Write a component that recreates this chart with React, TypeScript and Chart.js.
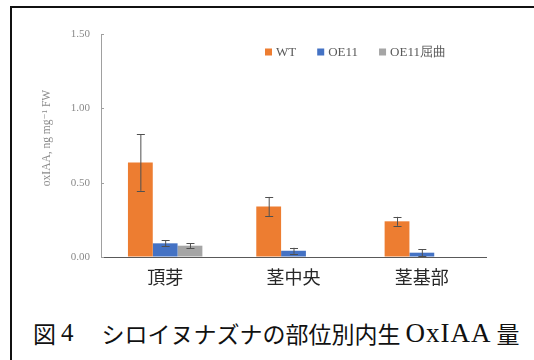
import { useEffect, useRef } from "react";
import { Chart, registerables } from "chart.js";

Chart.register(...registerables);

// Sampling sites along the stem
const categories = ["頂芽", "茎中央", "茎基部"];

// Series names and colours
const seriesNames = ["WT", "OE11", "OE11屈曲"];
const seriesColors = ["#ED7D31", "#4472C4", "#A5A5A5"];

// Means and standard errors (ng mg⁻¹ FW)
const wtMeans = [0.635, 0.34, 0.24];
const wtErrors = [0.19, 0.064, 0.03];
const oe11Means = [0.092, 0.042, 0.029];
const oe11Errors = [0.02, 0.02, 0.022];
const bentMeans: (number | null)[] = [0.076, null, null];
const bentErrors: (number | null)[] = [0.017, null, null];

// Value axis
const yTicks = [0, 0.5, 1.0, 1.5];
const yTitle = "oxIAA, ng mg⁻¹ FW";

const SERIF = '"Liberation Serif", "DejaVu Serif", serif';
const CJK = '"Noto Sans CJK JP", sans-serif';

// Draws ±error whiskers on top of every bar
const errorBars = {
  id: "errorBars",
  afterDatasetsDraw(chart: any) {
    const { ctx } = chart;
    const y = chart.scales.y;
    chart.data.datasets.forEach((ds: any, i: number) => {
      const meta = chart.getDatasetMeta(i);
      ds.data.forEach((v: number | null, j: number) => {
        const e = ds.errors?.[j];
        if (v == null || e == null) return;
        const x = meta.data[j].x;
        const top = y.getPixelForValue(v + e);
        const bot = y.getPixelForValue(Math.max(v - e, 0));
        ctx.save();
        ctx.strokeStyle = "#505050";
        ctx.lineWidth = 1;
        ctx.beginPath();
        ctx.moveTo(x + 0.5, top);
        ctx.lineTo(x + 0.5, bot);
        ctx.moveTo(x - 3.5, Math.round(top) + 0.5);
        ctx.lineTo(x + 4.5, Math.round(top) + 0.5);
        ctx.moveTo(x - 3.5, Math.round(bot) + 0.5);
        ctx.lineTo(x + 4.5, Math.round(bot) + 0.5);
        ctx.stroke();
        ctx.restore();
      });
    });
  },
};

// Inner tick marks, rotated axis title and the series key
const decorations = {
  id: "decorations",
  afterDraw(chart: any) {
    const { ctx, chartArea } = chart;
    const y = chart.scales.y;
    ctx.save();

    ctx.strokeStyle = "#a0a0a0";
    ctx.lineWidth = 1;
    yTicks.forEach((t) => {
      const py = Math.round(y.getPixelForValue(t)) + 0.5;
      ctx.beginPath();
      ctx.moveTo(chartArea.left, py);
      ctx.lineTo(chartArea.left + 3, py);
      ctx.stroke();
    });

    ctx.fillStyle = "#8a8a8a";
    ctx.font = `11.5px ${SERIF}`;
    ctx.textAlign = "center";
    ctx.textBaseline = "middle";
    ctx.translate(47, 138);
    ctx.rotate(-Math.PI / 2);
    ctx.fillText(yTitle, 0, 0);
    ctx.setTransform(1, 0, 0, 1, 0, 0);

    let x = 265;
    const ly = 52;
    ctx.font = `13px ${SERIF}`;
    ctx.textAlign = "left";
    ctx.textBaseline = "middle";
    chart.data.datasets.forEach((ds: any) => {
      ctx.fillStyle = ds.backgroundColor;
      ctx.fillRect(x, ly - 3.5, 7, 7);
      x += 11;
      ctx.fillStyle = "#595959";
      ctx.fillText(ds.label, x, ly + 0.5);
      x += ctx.measureText(ds.label).width + 21;
    });
    ctx.restore();
  },
};

export default function App() {
  const canvasRef = useRef<HTMLCanvasElement>(null);

  useEffect(() => {
    document.body.style.overflow = "hidden";
    const means = [wtMeans, oe11Means, bentMeans];
    const errs = [wtErrors, oe11Errors, bentErrors];
    const chart = new Chart(canvasRef.current!, {
      type: "bar",
      data: {
        labels: categories,
        datasets: seriesNames.map((name, i) => ({
          label: name,
          data: means[i],
          errors: errs[i],
          backgroundColor: seriesColors[i],
          categoryPercentage: 0.58,
          barPercentage: 1,
        })) as any,
      },
      options: {
        animation: false,
        responsive: false,
        devicePixelRatio: 1,
        layout: { padding: { left: 11, right: 48, top: 34, bottom: 7 } },
        plugins: {
          legend: { display: false },
          tooltip: { enabled: false },
        },
        scales: {
          x: {
            grid: { drawOnChartArea: false, drawTicks: false },
            border: { display: true, color: "#595959", width: 1 },
            ticks: {
              font: { family: CJK, size: 18 },
              color: "#262626",
              padding: 9,
            },
            afterFit: (s: any) => {
              s.height = 36;
            },
          },
          y: {
            min: 0,
            max: 1.5,
            afterBuildTicks: (s: any) => {
              s.ticks = yTicks.map((v) => ({ value: v }));
            },
            grid: { drawOnChartArea: false, drawTicks: false },
            border: { display: true, color: "#a0a0a0", width: 1 },
            ticks: {
              callback: (v: any) => Number(v).toFixed(2),
              font: { family: SERIF, size: 11 },
              color: "#8a8a8a",
              padding: 11,
            },
            afterFit: (s: any) => {
              s.width = 90;
            },
          },
        },
      },
      plugins: [errorBars, decorations],
    });
    return () => chart.destroy();
  }, []);

  return (
    <div style={{ position: "fixed", inset: 0, overflow: "hidden", background: "#fff" }}>
      <div
        style={{
          position: "absolute",
          left: 10,
          top: 6,
          width: 600,
          height: 420,
          borderLeft: "2px solid #111",
          borderTop: "2px solid #111",
        }}
      />
      <canvas
        ref={canvasRef}
        width={534}
        height={300}
        style={{ position: "absolute", left: 0, top: 0, width: 534, height: 300 }}
      />
      <div
        style={{
          position: "absolute",
          left: 33,
          top: 318,
          height: 30,
          display: "flex",
          alignItems: "center",
          whiteSpace: "nowrap",
          color: "#111",
          fontFamily: CJK,
          fontSize: 23,
          lineHeight: "30px",
        }}
      >
        <span>図</span>
        <span style={{ fontFamily: SERIF, fontSize: 25, marginLeft: 5 }}>4</span>
        <span style={{ marginLeft: 28 }}>シロイヌナズナの部位別内生</span>
        <span style={{ fontFamily: SERIF, fontSize: 27, marginLeft: 5, letterSpacing: 1 }}>OxIAA</span>
        <span style={{ marginLeft: 5 }}>量</span>
      </div>
    </div>
  );
}
